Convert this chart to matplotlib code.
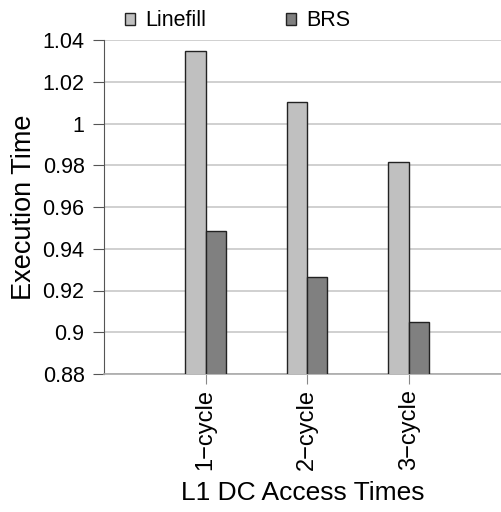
import numpy as np
import matplotlib.pyplot as plt

plt.rcParams['font.family'] = ['Liberation Sans', 'DejaVu Sans']

# execution time normalised, per L1 data cache access latency
categories = ["1\u2212cycle", "2\u2212cycle", "3\u2212cycle"]
linefill = [1.0349, 1.0104, 0.9816]
brs = [0.9487, 0.9263, 0.9051]

fig = plt.figure(figsize=(5.02, 5.12), dpi=100)
ax = fig.add_axes([104 / 502, 1 - 374 / 512, 1 - 104 / 502, 334 / 512])

x = np.arange(1, len(categories) + 1)
w = 0.2
ax.bar(x - w / 2, linefill, w, color="#c0c0c0", edgecolor="#222222", linewidth=1.0,
       label="Linefill", zorder=3)
ax.bar(x + w / 2, brs, w, color="#808080", edgecolor="#222222", linewidth=1.0,
       label="BRS", zorder=3)

ax.set_ylim(0.88, 1.04)
ax.set_xlim(0, 3.92)
yt = np.arange(0.88, 1.0401, 0.02)
ax.set_yticks(yt)
ax.set_yticklabels(["%g" % round(v, 2) for v in yt])
ax.yaxis.grid(True, color="#c8c8c8", linewidth=1.2, zorder=0)

ax.set_xticks(x)
ax.set_xticklabels(categories, rotation=90, fontsize=17)
ax.tick_params(axis="x", length=7, color="#888888", pad=4)
ax.tick_params(axis="y", length=8, color="#555555", labelsize=15.5, pad=6)

for s in ["top", "right"]:
    ax.spines[s].set_visible(False)
ax.spines["left"].set_color("#555555")
ax.spines["bottom"].set_color("#aaaaaa")
ax.spines["bottom"].set_linewidth(1.2)

ax.set_ylabel("Execution Time", fontsize=19.5, labelpad=4)
ax.set_xlabel("L1 DC Access Times", fontsize=19, labelpad=8)

ax.legend(loc="lower left", bbox_to_anchor=(0.03, 1.0), ncol=2, frameon=False,
          fontsize=15.5, handlelength=0.5, handleheight=0.5, handletextpad=0.45,
          columnspacing=3.7, borderaxespad=0.0)

fig.savefig("out.png", dpi=100)
